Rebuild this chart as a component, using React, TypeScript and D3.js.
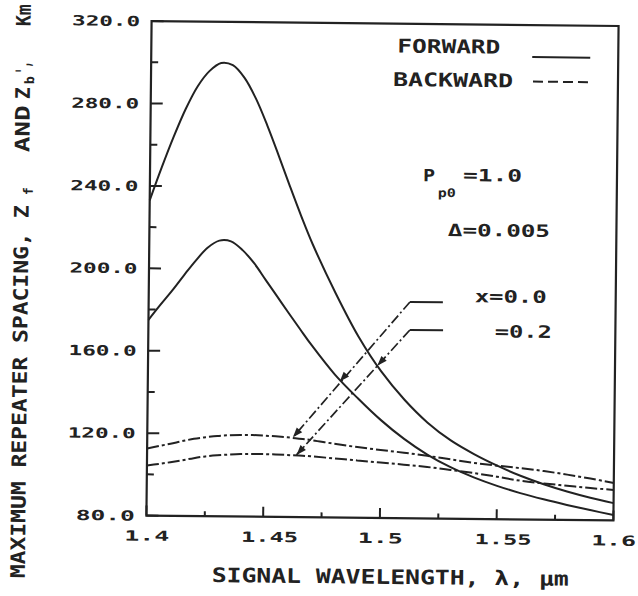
import React from 'react';
import * as d3 from 'd3';

// ---- data ----
const wavelengths = [1.400, 1.405, 1.410, 1.415, 1.420, 1.425, 1.430, 1.435, 1.440, 1.445, 1.450, 1.455, 1.460, 1.465, 1.470, 1.480, 1.490, 1.500, 1.510, 1.520, 1.530, 1.540, 1.550, 1.560, 1.570, 1.580, 1.590, 1.600];
// forward, x = 0.2 (upper solid)
const forwardX02 = [233, 249, 264, 277.5, 288.5, 296, 300, 299, 293, 283, 270, 255.5, 240.5, 226, 212.5, 189, 168, 151, 137.5, 126.5, 118, 111.5, 106, 101.2, 97.2, 93.8, 90.9, 88.4];
// forward, x = 0.0 (lower solid)
const forwardX00 = [175, 182.3, 189.3, 196.8, 204, 210.3, 213.8, 213.5, 209.3, 203, 195, 187, 179, 171.2, 163.5, 149.5, 138, 127.5, 118.5, 111, 105, 100.2, 96.2, 92.8, 89.9, 87.3, 84.9, 82.6];
// backward, x = 0.0 (upper dash-dot)
const backwardX00 = [112.5, 113.8, 115, 116.3, 117.5, 118.3, 119, 119.4, 119.6, 119.6, 119.4, 119.1, 118.7, 118.1, 117.5, 115.8, 114.3, 113, 111.8, 110.4, 108.8, 107.2, 106, 104.9, 103.6, 102, 100.2, 98.2];
// backward, x = 0.2 (lower dash-dot)
const backwardX02 = [104.3, 105.1, 106, 107, 108.1, 109, 109.6, 110, 110.3, 110.4, 110.4, 110.3, 110.1, 109.9, 109.6, 108.7, 107.8, 106.9, 106, 105, 103.7, 102.3, 100.6, 98.8, 97.6, 96.6, 95.6, 94.8];

const xMajorTicks = [1.4, 1.45, 1.5, 1.55, 1.6];
const xTickLabels = ['1.4', '1.45', '1.5', '1.55', '1.6'];
const xMinorTicks = [1.425, 1.475, 1.525, 1.575];
const yMajorTicks = [80, 120, 160, 200, 240, 280, 320];
const yTickLabels = ['80.0', '120.0', '160.0', '200.0', '240.0', '280.0', '320.0'];
const yMinorTicks = [100, 140, 180, 220, 260, 300];

const legendLabels = ['FORWARD', 'BACKWARD'];
const xTitle = 'SIGNAL WAVELENGTH, λ, μm';

// leader annotations (data coordinates): label corner, label end, curve end, mid arrow tip
const leaderX00 = { corner: [1.5119, 185.0], stub: [1.5260, 185.0], end: [1.4624, 118.7], mid: [1.4822, 146.0] };
const leaderX02 = { corner: [1.5120, 171.4], stub: [1.5262, 171.4], end: [1.4640, 110.2], mid: [1.4982, 153.9] };

export default function App() {
  const W = 638, H = 596;
  const left = 149, right = 616, top = 23.5, bottom = 518;
  const x = d3.scaleLinear().domain([1.4, 1.6]).range([left, right]);
  const y = d3.scaleLinear().domain([80, 320]).range([bottom, top]);
  const ink = '#222222';
  const font = '"DejaVu Sans Mono", monospace';

  const path = (vals: number[]) =>
    d3.line<number>()
      .x((_, i) => x(wavelengths[i]))
      .y(d => y(d))
      .curve(d3.curveCatmullRom.alpha(0.5))(vals) as string;

  const T = (p: { x: number; y: number; text: string; size: number; len: number; anchor?: string; key?: string }) => (
    <text
      key={p.key}
      x={p.x}
      y={p.y}
      dy="0.365em"
      fontFamily={font}
      fontWeight="bold"
      fontSize={p.size}
      fill={ink}
      textAnchor={p.anchor || 'start'}
      textLength={p.len}
      lengthAdjust="spacingAndGlyphs"
    >
      {p.text}
    </text>
  );

  const arrow = (tip: number[], from: number[], key: string) => {
    const tx = x(tip[0]), ty = y(tip[1]);
    const fx = x(from[0]), fy = y(from[1]);
    const dx = tx - fx, dy = ty - fy;
    const d = Math.hypot(dx, dy);
    const ux = dx / d, uy = dy / d;
    const nx = -uy, ny = ux;
    const L = 10, Wd = 3.6;
    const pts = [
      [tx, ty],
      [tx - L * ux + Wd * nx, ty - L * uy + Wd * ny],
      [tx - L * ux - Wd * nx, ty - L * uy - Wd * ny],
    ];
    return <polygon key={key} points={pts.map(p => p.join(',')).join(' ')} fill={ink} />;
  };

  const leader = (ld: typeof leaderX00, key: string) => (
    <g key={key}>
      <line x1={x(ld.corner[0])} y1={y(ld.corner[1])} x2={x(ld.stub[0])} y2={y(ld.stub[1])} stroke={ink} strokeWidth={1.9} />
      <line x1={x(ld.corner[0])} y1={y(ld.corner[1])} x2={x(ld.end[0])} y2={y(ld.end[1])} stroke={ink} strokeWidth={1.7} strokeDasharray="10,3,2,3" />
      {arrow(ld.mid, ld.corner, key + 'm')}
      {arrow(ld.end, ld.corner, key + 'e')}
    </g>
  );

  const yTitleParts = [
    { text: 'MAXIMUM REPEATER SPACING,', lx: -582, ly: 0, size: 20, len: 346 },
    { text: 'Z', lx: -222, ly: 0, size: 20, len: 13 },
    { text: 'f', lx: -199, ly: 4, size: 13, len: 8 },
    { text: 'AND', lx: -156, ly: 0, size: 20, len: 47 },
    { text: 'Z', lx: -103, ly: 0, size: 20, len: 12 },
    { text: 'b', lx: -88, ly: 4, size: 13, len: 8 },
    { text: "',", lx: -78, ly: 0, size: 20, len: 13 },
    { text: 'Km', lx: -30, ly: 0, size: 20, len: 22 },
  ];

  return (
    <svg width={W} height={H} viewBox={`0 0 ${W} ${H}`} style={{ position: 'absolute', left: 0, top: 0, background: '#ffffff' }}>
      <rect x={0} y={0} width={W} height={H} fill="#ffffff" />
      <g transform="rotate(0.6 382 270)">
        {/* frame */}
        <rect x={left} y={top} width={right - left} height={bottom - top} fill="none" stroke={ink} strokeWidth={2.2} />

        {/* y ticks */}
        {yMajorTicks.map(t => (
          <line key={'ym' + t} x1={left} x2={left + 12} y1={y(t)} y2={y(t)} stroke={ink} strokeWidth={2} />
        ))}
        {yMinorTicks.map(t => (
          <line key={'yn' + t} x1={left} x2={left + 7} y1={y(t)} y2={y(t)} stroke={ink} strokeWidth={2} />
        ))}
        {yMajorTicks.map((t, i) =>
          T({ key: 'yl' + t, x: left - 11.5, y: y(t), text: yTickLabels[i], size: 14, len: yTickLabels[i].length === 5 ? 68 : 59, anchor: 'end' })
        )}

        {/* x ticks */}
        {xMajorTicks.map(t => (
          <line key={'xm' + t} x1={x(t)} x2={x(t)} y1={bottom} y2={bottom - 10} stroke={ink} strokeWidth={2} />
        ))}
        {xMinorTicks.map(t => (
          <line key={'xn' + t} x1={x(t)} x2={x(t)} y1={bottom} y2={bottom - 5} stroke={ink} strokeWidth={2} />
        ))}
        {xMajorTicks.map((t, i) =>
          T({ key: 'xl' + t, x: x(t) - 22, y: bottom + 20, text: xTickLabels[i], size: 14, len: xTickLabels[i].length === 3 ? 45 : 57 })
        )}

        {/* curves */}
        <path d={path(forwardX02)} fill="none" stroke={ink} strokeWidth={2} />
        <path d={path(forwardX00)} fill="none" stroke={ink} strokeWidth={2} />
        <path d={path(backwardX00)} fill="none" stroke={ink} strokeWidth={2} strokeDasharray="12,3,3,3" />
        <path d={path(backwardX02)} fill="none" stroke={ink} strokeWidth={2} strokeDasharray="12,3,3,3" />

        {/* leaders */}
        {leader(leaderX00, 'l0')}
        {leader(leaderX02, 'l2')}

        {/* legend */}
        {T({ x: 395, y: 45.5, text: legendLabels[0], size: 19, len: 103 })}
        {T({ x: 391, y: 79, text: legendLabels[1], size: 19, len: 120 })}
        <line x1={530} x2={588} y1={55.5} y2={55.5} stroke={ink} strokeWidth={2} />
        <line x1={531} x2={588} y1={80} y2={80} stroke={ink} strokeWidth={2} strokeDasharray="10,5" />

        {/* parameter annotations */}
        {T({ x: 422, y: 174.5, text: 'P', size: 17, len: 12 })}
        {T({ x: 437, y: 192, text: 'p0', size: 12, len: 18 })}
        {T({ x: 462, y: 174, text: '=1.0', size: 17, len: 59 })}
        {T({ x: 447.5, y: 229, text: 'Δ=0.005', size: 17, len: 102 })}
        {T({ x: 475, y: 295, text: 'x=0.0', size: 17, len: 72 })}
        {T({ x: 495.5, y: 330, text: '=0.2', size: 17, len: 57 })}

        {/* x title */}
        {T({ x: 215, y: 576.5, text: xTitle, size: 20, len: 357 })}

        {/* y title */}
        <g transform="translate(28,0) rotate(-90)">
          {yTitleParts.map((p, i) => (
            <text
              key={'yt' + i}
              x={p.lx}
              y={p.ly}
              fontFamily={font}
              fontWeight="bold"
              fontSize={p.size}
              fill={ink}
              textLength={p.len}
              lengthAdjust="spacingAndGlyphs"
            >
              {p.text}
            </text>
          ))}
        </g>
      </g>
    </svg>
  );
}
